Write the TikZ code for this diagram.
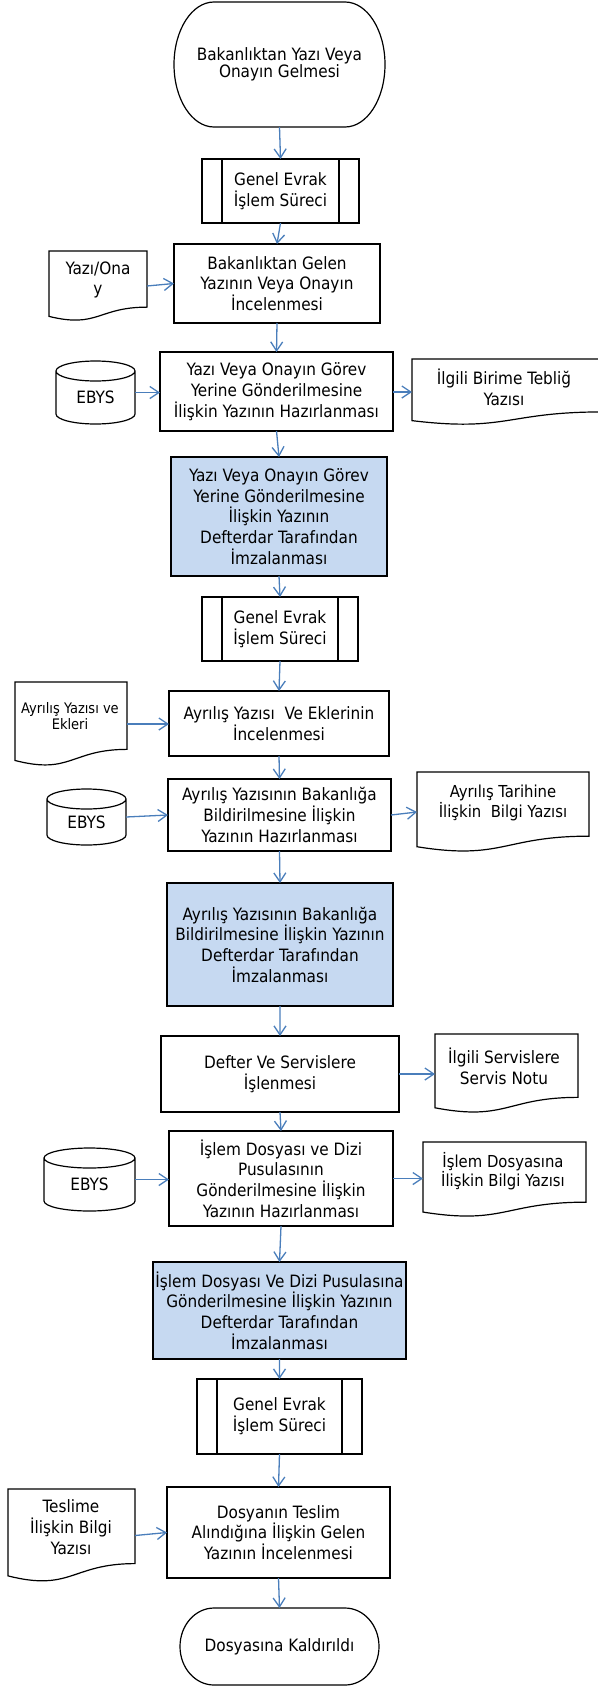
\documentclass[tikz,border=0pt]{standalone}
\usepackage{fontspec}
\setmainfont{DejaVu Sans Condensed}
\usetikzlibrary{arrows.meta,calc}
\definecolor{arrblue}{HTML}{4A7EBB}
\definecolor{fillblue}{HTML}{C6D9F1}
\newcommand\mainfs{\fontsize{17bp}{20.7bp}\selectfont}
\tikzset{
  shp/.style={draw=black, line width=1.2bp},
  base/.style={inner sep=0pt, outer sep=0pt, anchor=north west},
  proc/.style={base, shp, align=center, font=\mainfs},
  blueproc/.style={proc, fill=fillblue},
  hold/.style={base, draw=none, align=center, font=\mainfs},
  txt/.style={align=center, inner sep=0pt, font=\mainfs},
  arr/.style={draw=arrblue, line width=1.3bp, -{Straight Barb[length=9bp,width=12bp]}},
}
\newcommand\docoutline[1]{\draw[shp] (#1.north west) -- (#1.north east) -- ($(#1.north east)!0.802!(#1.south east)$) .. controls ($(#1.north)!0.802!(#1.south)$) and ($(#1.north)!1.107!(#1.south)$) .. ($(#1.north west)!0.934!(#1.south west)$) -- cycle;}
\newcommand\cyloutline[2]{\draw[shp] let \p1=(#1.north west), \p2=(#1.south east), \n1={(\x2-\x1)/2} in
  (\x1,{\y1-#2}) -- (\x1,{\y2+#2}) arc[start angle=180,end angle=360,x radius=\n1,y radius=#2] -- (\x2,{\y1-#2})
  ({(\x1+\x2)/2},{\y1-#2}) ellipse[x radius=\n1,y radius=#2];}
\newcommand\termoutline[2]{\draw[shp] let \p1=(#1.north west), \p2=(#1.south east), \n1={(\y1-\y2)/2} in
  ({\x1+#2},\y1) -- ({\x2-#2},\y1) arc[start angle=90,end angle=-90,x radius=#2,y radius=\n1] -- ({\x1+#2},\y2) arc[start angle=270,end angle=90,x radius=#2,y radius=\n1] -- cycle;}
\newcommand\predlines[2]{\draw[shp] ([xshift=#2]#1.north west) -- ([xshift=#2]#1.south west) ([xshift=-#2]#1.north east) -- ([xshift=-#2]#1.south east);}
\begin{document}
\begin{tikzpicture}[x=1bp,y=1bp]
\useasboundingbox (0,0) rectangle (598,-1687);
% terminals
\node[hold, minimum width=211bp, minimum height=125bp, font=\fontsize{17bp}{16bp}\selectfont] (t1) at (174,-2) {Bakanlıktan Yazı Veya\\Onayın Gelmesi};
\termoutline{t1}{40bp}
\node[hold, minimum width=199bp, minimum height=77bp] (t2) at (180,-1608) {Dosyasına Kaldırıldı};
\termoutline{t2}{34bp}
% predefined processes
\node[proc, minimum width=157bp, minimum height=64bp] (g1) at (202,-159) {Genel Evrak\\İşlem Süreci};
\predlines{g1}{20bp}
\node[proc, minimum width=156bp, minimum height=64bp] (g2) at (202,-597) {Genel Evrak\\İşlem Süreci};
\predlines{g2}{20bp}
\node[proc, minimum width=165bp, minimum height=75bp] (g3) at (197,-1379) {Genel Evrak\\İşlem Süreci};
\predlines{g3}{20bp}
% processes
\node[proc, minimum width=206bp, minimum height=79bp] (b1) at (174,-244) {Bakanlıktan Gelen\\Yazının Veya Onayın\\İncelenmesi};
\node[proc, minimum width=233bp, minimum height=79bp] (b2) at (160,-352) {Yazı Veya Onayın Görev\\Yerine Gönderilmesine\\İlişkin Yazının Hazırlanması};
\node[blueproc, minimum width=216bp, minimum height=119bp] (bl1) at (171,-457) {Yazı Veya Onayın Görev\\Yerine Gönderilmesine\\İlişkin Yazının\\Defterdar Tarafından\\İmzalanması};
\node[proc, minimum width=220bp, minimum height=65bp] (b3) at (169,-691) {Ayrılış Yazısı\ \ Ve Eklerinin\\İncelenmesi};
\node[proc, minimum width=223bp, minimum height=72bp] (b4) at (168,-779) {Ayrılış Yazısının Bakanlığa\\Bildirilmesine İlişkin\\Yazının Hazırlanması};
\node[blueproc, minimum width=226bp, minimum height=123bp] (bl2) at (167,-883) {Ayrılış Yazısının Bakanlığa\\Bildirilmesine İlişkin Yazının\\Defterdar Tarafından\\İmzalanması};
\node[proc, minimum width=238bp, minimum height=76bp] (b5) at (161,-1036) {Defter Ve Servislere\\İşlenmesi};
\node[proc, minimum width=224bp, minimum height=95bp] (b6) at (169,-1131) {İşlem Dosyası ve Dizi\\Pusulasının\\Gönderilmesine İlişkin\\Yazının Hazırlanması};
\node[blueproc, minimum width=253bp, minimum height=97bp] (bl3) at (153,-1262) {İşlem Dosyası Ve Dizi Pusulasına\\Gönderilmesine İlişkin Yazının\\Defterdar Tarafından\\İmzalanması};
\node[proc, minimum width=223bp, minimum height=91bp] (b7) at (167,-1487) {Dosyanın Teslim\\Alındığına İlişkin Gelen\\Yazının İncelenmesi};
% documents
\node[hold, minimum width=98bp, minimum height=70bp] (d1) at (49,-251) {};
\docoutline{d1}
\node[txt] (d1t) at (98,-280) {Yazı/Ona\\y};
\node[hold, minimum width=190bp, minimum height=66bp] (d2) at (412,-359) {};
\docoutline{d2}
\node[txt] (d2t) at (504,-387.5) {İlgili Birime Tebliğ\\Yazısı};
\node[hold, minimum width=112bp, minimum height=84bp] (d3) at (15,-682) {};
\docoutline{d3}
\node[txt, font=\fontsize{14.5bp}{16.7bp}\selectfont] (d3t) at (70,-716) {Ayrılış Yazısı ve\\Ekleri};
\node[hold, minimum width=172bp, minimum height=80bp] (d4) at (417,-772) {};
\docoutline{d4}
\node[txt, font=\fontsize{16.5bp}{15bp}\selectfont] (d4t) at (503,-803) {Ayrılış Tarihine\\İlişkin\ \ Bilgi Yazısı};
\node[hold, minimum width=143bp, minimum height=79bp] (d5) at (435,-1034) {};
\docoutline{d5}
\node[txt] (d5t) at (504,-1066.5) {İlgili Servislere\\Servis Notu};
\node[hold, minimum width=163bp, minimum height=75bp] (d6) at (423,-1142) {};
\docoutline{d6}
\node[txt, font=\fontsize{16.5bp}{16bp}\selectfont] (d6t) at (503,-1171) {İşlem Dosyasına\\İlişkin Bilgi Yazısı};
\node[hold, minimum width=127bp, minimum height=93bp] (d7) at (8,-1489) {};
\docoutline{d7}
\node[txt] (d7t) at (71,-1527) {Teslime\\İlişkin Bilgi\\Yazısı};
% cylinders
\node[hold, minimum width=79bp, minimum height=63bp] (c1) at (56,-361) {};
\cyloutline{c1}{10bp}
\node[txt] (c1t) at ([yshift=-5bp]c1.center) {EBYS};
\node[hold, minimum width=79bp, minimum height=56bp] (c2) at (47,-789) {};
\cyloutline{c2}{10bp}
\node[txt] (c2t) at ([yshift=-5bp]c2.center) {EBYS};
\node[hold, minimum width=91bp, minimum height=63bp] (c3) at (44,-1148) {};
\cyloutline{c3}{10bp}
\node[txt] (c3t) at ([yshift=-5bp]c3.center) {EBYS};
% connectors
\draw[arr] (t1.south) -- (g1.north);
\draw[arr] (g1.south) -- (b1.north);
\draw[arr] (d1.east) -- (b1.west);
\draw[arr] (b1.south) -- (b2.north);
\draw[arr] (c1.east) -- (c1.east -| b2.west);
\draw[arr] (d2.west -| b2.east) -- (d2.west);
\draw[arr] (b2.south) -- (bl1.north);
\draw[arr] (bl1.south) -- (g2.north);
\draw[arr] (g2.south) -- (b3.north);
\draw[arr] (d3.east) -- (d3.east -| b3.west);
\draw[arr] (b3.south) -- (b4.north);
\draw[arr] (c2.east) -- (b4.west);
\draw[arr] (b4.east) -- (d4.west);
\draw[arr] (b4.south) -- (bl2.north);
\draw[arr] (bl2.south) -- (b5.north);
\draw[arr] (b5.east) -- (b5.east -| d5.west);
\draw[arr] (b5.south) -- (b6.north);
\draw[arr] (c3.east) -- (c3.east -| b6.west);
\draw[arr] (b6.east) -- (b6.east -| d6.west);
\draw[arr] (b6.south) -- (bl3.north);
\draw[arr] (bl3.south) -- (g3.north);
\draw[arr] (g3.south) -- (b7.north);
\draw[arr] (d7.east) -- (b7.west);
\draw[arr] (b7.south) -- (t2.north);
\end{tikzpicture}
\end{document}
